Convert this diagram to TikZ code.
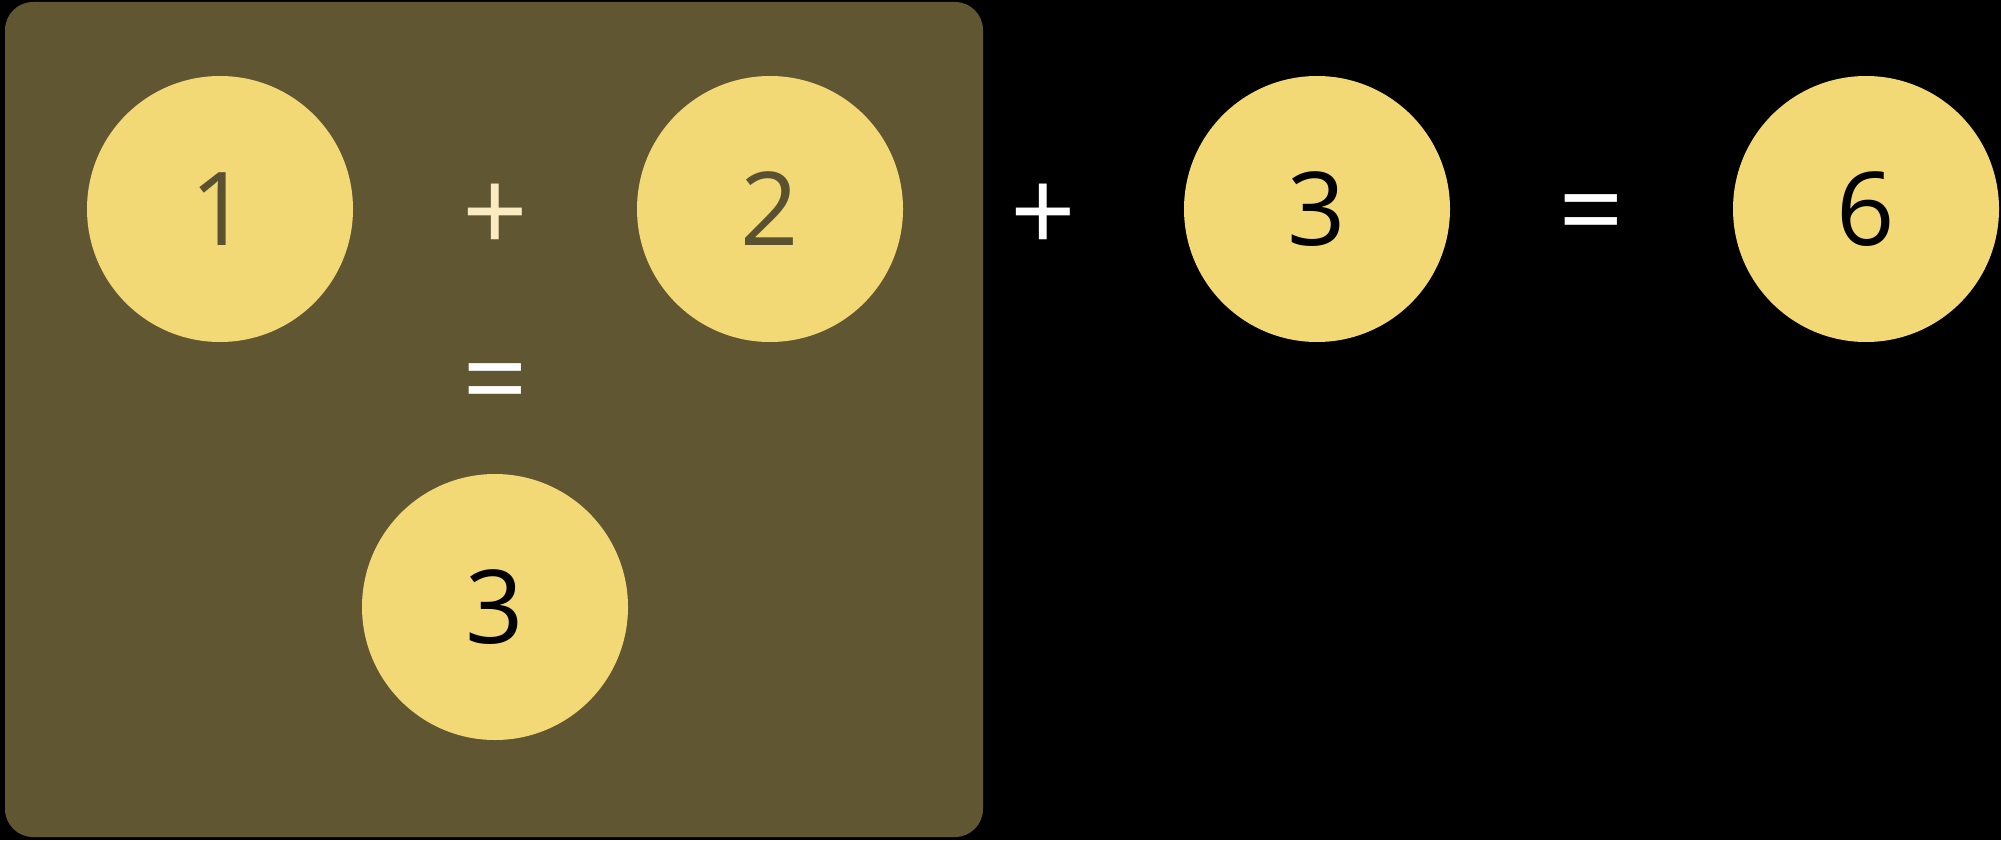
\documentclass[tikz,border=0pt]{standalone}
\usepackage{fontspec}
\setmainfont{Open Sans}
\definecolor{olivebox}{HTML}{615632}
\definecolor{coin}{HTML}{F3D876}
\definecolor{dimtext}{HTML}{5A5130}
\definecolor{cream}{HTML}{FAEBC3}
\tikzset{
  coinnode/.style={circle, fill=coin, minimum size=266pt, inner sep=0pt,
    font=\fontsize{102}{112}\selectfont},
  opnode/.style={inner sep=0pt, font=\fontsize{115}{125}\selectfont, text=white}
}
\begin{document}
\begin{tikzpicture}[x=1pt,y=-1pt]
\fill[black] (0,0) rectangle (2001,840);
\useasboundingbox (0,0) rectangle (2001,840);
\fill[olivebox, rounded corners=28pt] (5,2) rectangle (983,837);
\node[coinnode, text=dimtext] (c1) at (220,209) {1};
\node[coinnode, text=dimtext] (c2) at (770,209) {2};
\node[coinnode, text=black] (c3b) at (495,607) {3};
\node[coinnode, text=black] (c3) at (1317,209) {3};
\node[coinnode, text=black] (c6) at (1866,209) {6};
\path (c1) -- node[opnode, text=cream, yshift=-9pt] (p1) {+} (c2);
\node[opnode, yshift=-14pt] (e1) at (495,378) {=};
\path (c2) -- node[opnode, yshift=-9pt] (p2) {+} (c3);
\path (c3) -- node[opnode, yshift=-14pt] (e2) {=} (c6);
\end{tikzpicture}
\end{document}
